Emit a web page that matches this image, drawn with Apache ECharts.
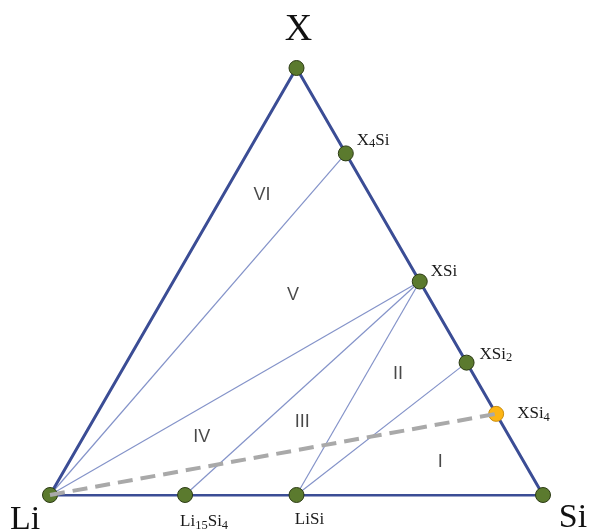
<!DOCTYPE html>
<html>
<head>
<meta charset="utf-8">
<script src="https://cdn.jsdelivr.net/npm/echarts@6/dist/echarts.min.js"></script>
<style>
  html, body { margin: 0; padding: 0; background: #fff; }
  #chart { width: 590px; height: 532px; }
</style>
</head>
<body>
<div id="chart"></div>
<script>
// compositions are [Li, Si, X] fractions
const vertexNames = ['Li', 'Si', 'X']
const vertexComps = [[1, 0, 0], [0, 1, 0], [0, 0, 1]]

const phaseNames = ['X4Si', 'XSi', 'XSi2', 'XSi4', 'Li15Si4', 'LiSi']
const phaseComps = [
  [0, 0.2, 0.8],
  [0, 0.5, 0.5],
  [0, 0.69, 0.31],
  [0, 0.81, 0.19],
  [0.726, 0.274, 0],
  [0.5, 0.5, 0]
]

// tie lines between phases
const tieLines = [
  ['Li', 'X4Si'],
  ['Li', 'XSi'],
  ['Li15Si4', 'XSi'],
  ['LiSi', 'XSi'],
  ['LiSi', 'XSi2']
]
const dashedLine = ['Li', 'XSi4']

// region numbers and where they sit (composition)
const regionNames = ['I', 'II', 'III', 'IV', 'V', 'VI']
const regionComps = [
  [0.17, 0.753, 0.077],
  [0.152, 0.564, 0.284],
  [0.403, 0.426, 0.171],
  [0.624, 0.240, 0.136],
  [0.273, 0.259, 0.468],
  [0.219, 0.079, 0.702]
]

const H = Math.sqrt(3) / 2
// ternary -> cartesian (Li at origin, Si at (1,0), X at apex)
const toXY = (c) => [c[1] + c[2] / 2, c[2] * H]

const allNames = vertexNames.concat(phaseNames)
const allComps = vertexComps.concat(phaseComps)
const pos = {}
allNames.forEach((n, i) => { pos[n] = toXY(allComps[i]) })

// label text with subscripts
const richName = {
  X4Si: '{b|X}{s|4}{b|Si}',
  XSi: '{b|XSi}',
  XSi2: '{b|XSi}{s|2}',
  XSi4: '{b|XSi}{s|4}',
  Li15Si4: '{b|Li}{s|15}{b|Si}{s|4}',
  LiSi: '{b|LiSi}'
}

// label placement per phase (style only)
const phaseLabel = {
  X4Si: { position: 'right', distance: 3, offset: [0, -13] },
  XSi: { position: 'right', distance: 3, offset: [0, -10] },
  XSi2: { position: 'right', distance: 5, offset: [0, -8] },
  XSi4: { position: 'right', distance: 13, offset: [0, 0] },
  Li15Si4: { position: 'bottom', distance: 4, offset: [19, 5] },
  LiSi: { position: 'bottom', distance: 4, offset: [13, 3] }
}
const vertexLabel = {
  X: { position: 'top', distance: 5, offset: [2, -6] },
  Li: { position: 'inside', offset: [-25, 25] },
  Si: { position: 'inside', offset: [30, 23] }
}

const edgeColor = '#3b4d95'
const tieColor = '#8493c9'
const green = '#5b7a2e'

const serif = 'Liberation Serif'
const richStyles = {
  b: { fontFamily: serif, fontSize: 17, lineHeight: 20, color: '#1a1a1a' },
  s: { fontFamily: serif, fontSize: 12.5, lineHeight: 13, verticalAlign: 'bottom', color: '#1a1a1a' }
}

const phaseData = phaseNames.map((n) => {
  const isOrange = n === 'XSi4'
  return {
    name: n,
    value: pos[n],
    itemStyle: {
      color: isOrange ? '#fdb515' : green,
      borderColor: isOrange ? '#c98d10' : '#2c3b14'
    },
    label: Object.assign({
      show: true,
      formatter: richName[n],
      rich: richStyles
    }, phaseLabel[n])
  }
})

const vertexData = vertexNames.map((n) => ({
  name: n,
  value: pos[n],
  itemStyle: { color: green, borderColor: '#2c3b14' },
  label: Object.assign({
    show: true,
    formatter: n,
    fontFamily: serif,
    fontSize: n === 'X' ? 38 : 34,
    color: '#111'
  }, vertexLabel[n])
}))

const edges = [['Li', 'Si'], ['Si', 'X'], ['X', 'Li']]

const option = {
  animation: false,
  backgroundColor: '#fff',
  grid: { left: 50, right: 47, top: 68, bottom: 37 },
  xAxis: { type: 'value', min: 0, max: 1, show: false },
  yAxis: { type: 'value', min: 0, max: H, show: false },
  series: [
    {
      type: 'lines',
      coordinateSystem: 'cartesian2d',
      z: 1,
      lineStyle: { color: tieColor, width: 1.2, opacity: 1 },
      data: tieLines.map((p) => ({ coords: [pos[p[0]], pos[p[1]]] }))
    },
    {
      type: 'lines',
      coordinateSystem: 'cartesian2d',
      z: 2,
      lineStyle: { color: edgeColor, width: 3, opacity: 1, cap: 'round' },
      data: edges.map((p) => ({ coords: [pos[p[0]], pos[p[1]]] }))
    },
    {
      type: 'scatter',
      z: 3,
      symbolSize: 15,
      itemStyle: { borderWidth: 1, opacity: 1 },
      data: vertexData.concat(phaseData)
    },
    {
      type: 'lines',
      coordinateSystem: 'cartesian2d',
      z: 4,
      lineStyle: { color: '#a9a9a9', width: 4, opacity: 1, type: [15, 8] },
      data: [{ coords: [pos[dashedLine[0]], pos[dashedLine[1]]] }]
    },
    {
      type: 'scatter',
      z: 5,
      symbolSize: 0,
      silent: true,
      label: {
        show: true,
        position: 'inside',
        formatter: (p) => p.name,
        fontFamily: 'Liberation Sans',
        fontSize: 18,
        color: '#1a1a1a'
      },
      data: regionNames.map((n, i) => ({ name: n, value: toXY(regionComps[i]) }))
    }
  ]
}

const chart = echarts.init(document.getElementById('chart'))
chart.setOption(option)
</script>
</body>
</html>
